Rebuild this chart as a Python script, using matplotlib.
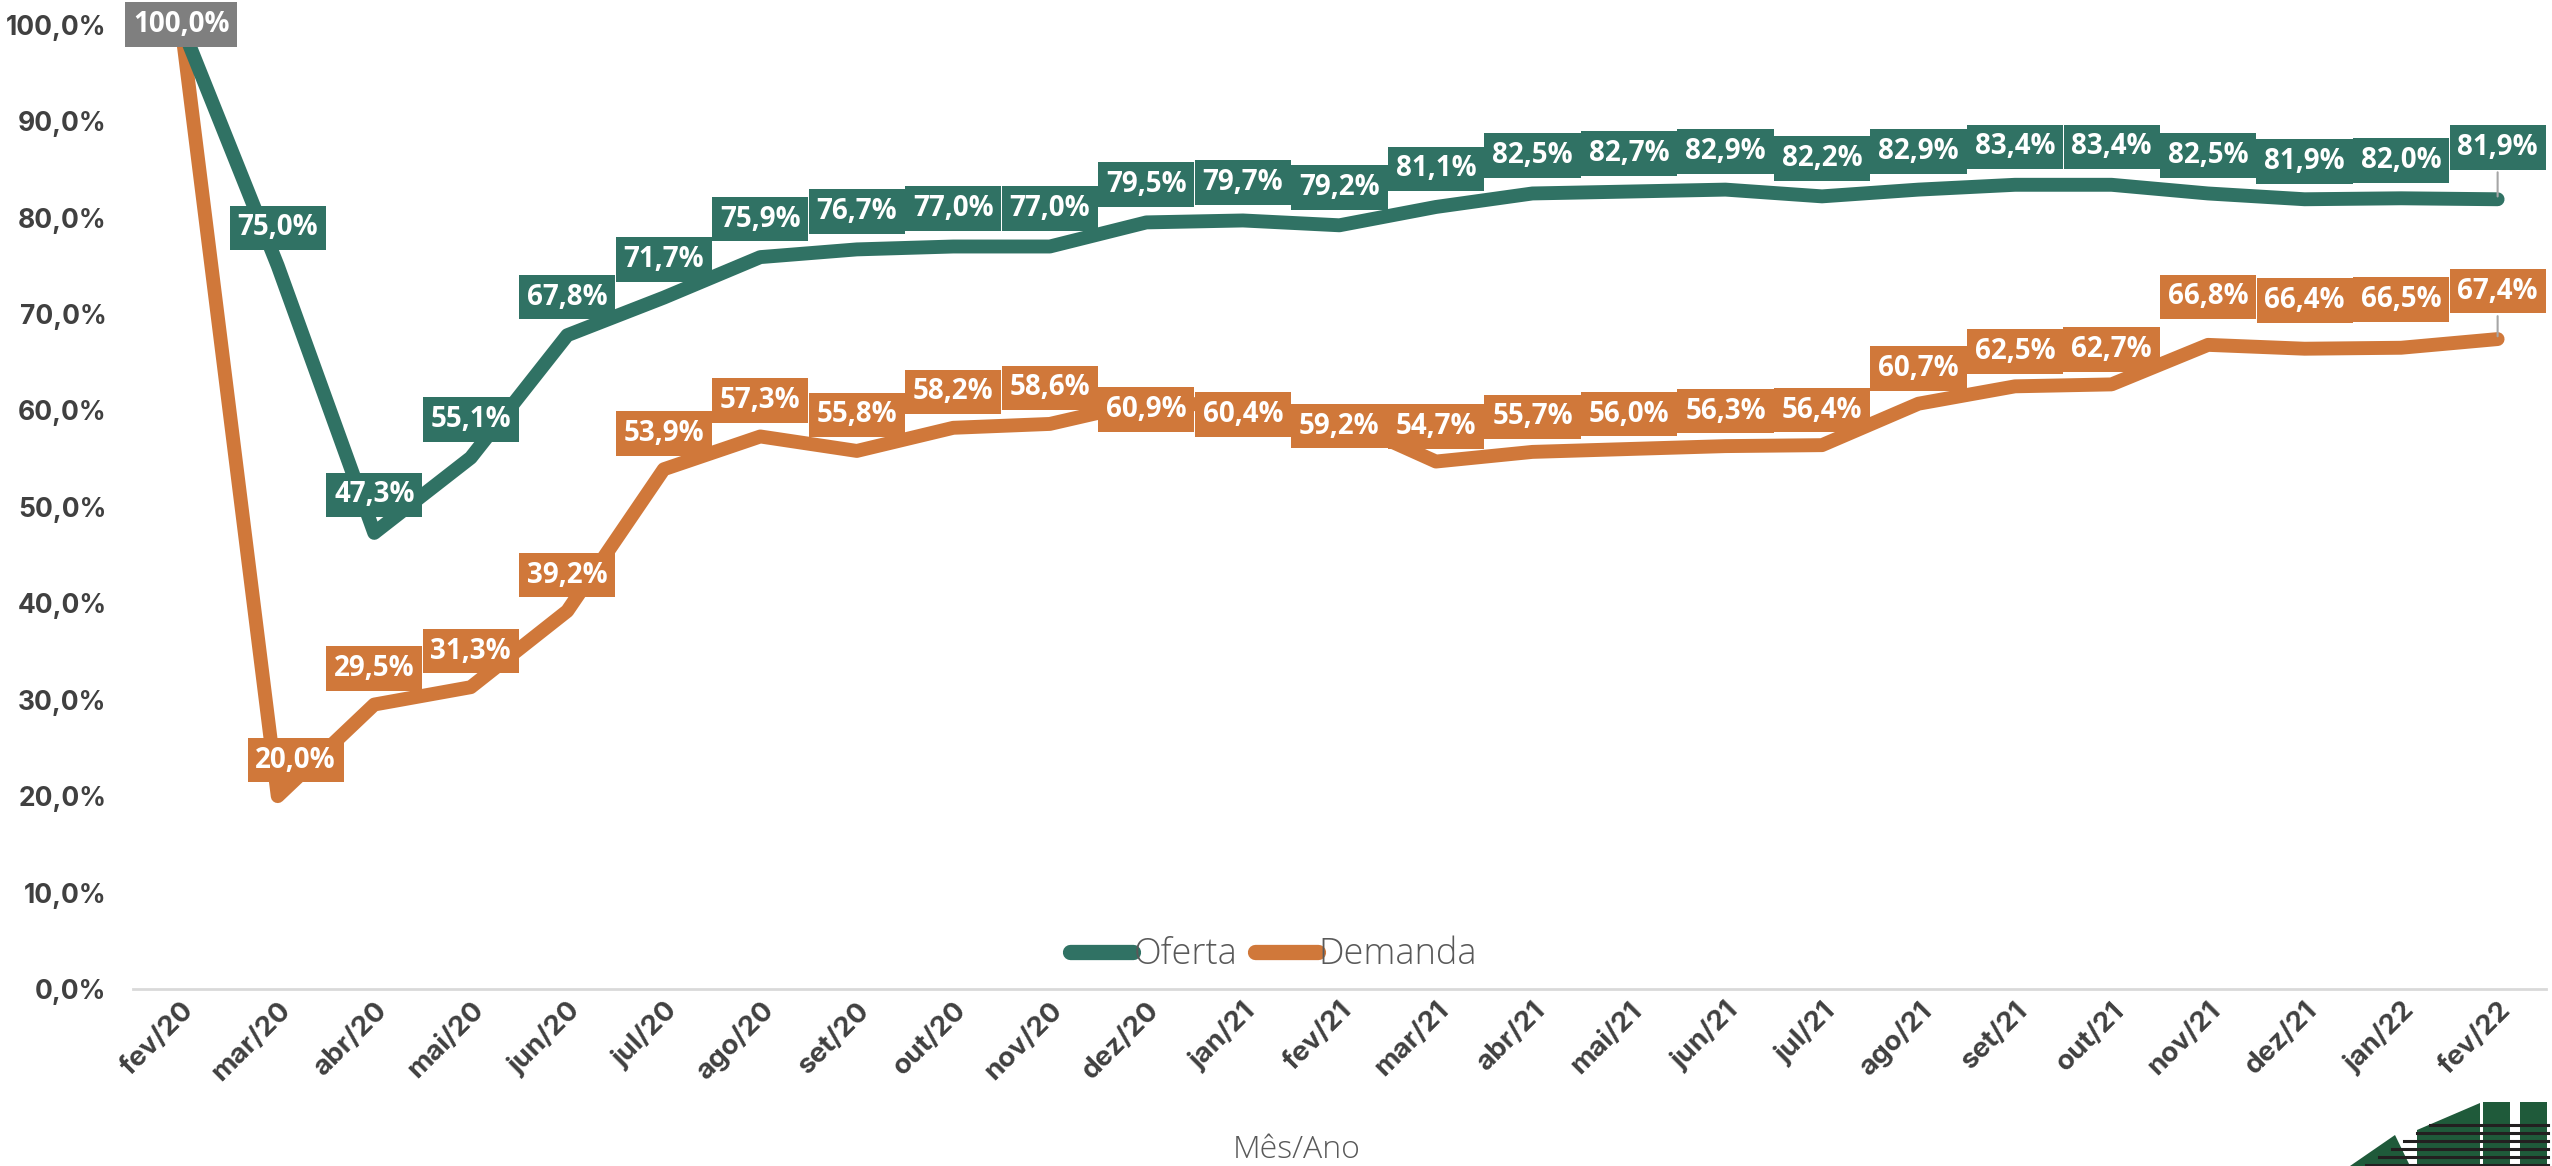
import matplotlib.pyplot as plt
import matplotlib.transforms as mtrans
from matplotlib.lines import Line2D
from matplotlib.patches import Rectangle, Polygon

# dados (mês/ano, % oferta e demanda)
meses = ["fev/20", "mar/20", "abr/20", "mai/20", "jun/20", "jul/20", "ago/20", "set/20",
         "out/20", "nov/20", "dez/20", "jan/21", "fev/21", "mar/21", "abr/21", "mai/21",
         "jun/21", "jul/21", "ago/21", "set/21", "out/21", "nov/21", "dez/21", "jan/22", "fev/22"]
oferta = [100.0, 75.0, 47.3, 55.1, 67.8, 71.7, 75.9, 76.7, 77.0, 77.0, 79.5, 79.7, 79.2,
          81.1, 82.5, 82.7, 82.9, 82.2, 82.9, 83.4, 83.4, 82.5, 81.9, 82.0, 81.9]
demanda = [100.0, 20.0, 29.5, 31.3, 39.2, 53.9, 57.3, 55.8, 58.2, 58.6, 60.9, 60.4, 59.2,
           54.7, 55.7, 56.0, 56.3, 56.4, 60.7, 62.5, 62.7, 66.8, 66.4, 66.5, 67.4]
yticks = [0, 10, 20, 30, 40, 50, 60, 70, 80, 90, 100]

verde = "#307264"
laranja = "#D0783A"
cinza_txt = "#404040"

fig = plt.figure(figsize=(25.52, 11.66), dpi=100)
ax = fig.add_axes([0.0521, 0.1518, 0.9455, 0.827])

x = list(range(len(meses)))
ax.plot(x, oferta, color=verde, lw=10, solid_capstyle="round", solid_joinstyle="round", zorder=3)
ax.plot(x, demanda, color=laranja, lw=10, solid_capstyle="round", solid_joinstyle="round", zorder=2)

ax.set_xlim(-0.5, 24.5)
ax.set_ylim(0, 100)

# deslocamento dos rótulos (px)
px = 0.72
off_of = [0] + [38] * 23 + [52]
off_de = [0] + [36] * 9 + [-8, -8, -8] + [35] * 8 + [48] * 4
dx_de = [0, 18] + [0] * 23


def rotulo(xi, yi, dy, cor, dx=0, leader=False):
    txt = f"{yi:.1f}%".replace(".", ",")
    ax.annotate(txt, (xi, yi), xytext=(dx * px, dy * px), textcoords="offset points",
                ha="center", va="center", color="white", fontsize=20,
                family="Open Sans", weight="bold", zorder=6,
                bbox=dict(boxstyle="square,pad=0.28", fc=cor, ec="none"),
                arrowprops=dict(arrowstyle="-", color="#A6A6A6", lw=1.5) if leader else None)


for i in range(1, len(meses)):
    rotulo(i, oferta[i], off_of[i], verde, leader=(i == len(meses) - 1))
    rotulo(i, demanda[i], off_de[i], laranja, dx=dx_de[i], leader=(i == len(meses) - 1))
rotulo(0, 100.0, 0, "#7F7F7F")

ax.set_yticks(yticks)
ax.set_yticklabels([f"{v:.1f}%".replace(".", ",") for v in yticks])
ax.set_xticks(x)
ax.set_xticklabels(meses, rotation=45, ha="right", rotation_mode="anchor")
for lab in ax.get_yticklabels() + ax.get_xticklabels():
    lab.set_fontsize(19)
    lab.set_fontweight("bold")
    lab.set_family("Inter")
    lab.set_color(cinza_txt)
for lab in ax.get_xticklabels():
    lab.set_fontsize(20)
desloca = mtrans.ScaledTranslation(16 / 100, 0, fig.dpi_scale_trans)
for lab in ax.get_xticklabels():
    lab.set_transform(lab.get_transform() + desloca)
ax.tick_params(axis="both", length=0)
ax.tick_params(axis="y", pad=19)
ax.tick_params(axis="x", pad=6)

for s in ["top", "right", "left"]:
    ax.spines[s].set_visible(False)
ax.spines["bottom"].set_color("#D9D9D9")
ax.spines["bottom"].set_linewidth(2)

fig.text(0.508, 0.014, "Mês/Ano", ha="center", va="center", fontsize=23,
         family="Open Sans", weight="light", color="#595959")

handles = [Line2D([], [], color=verde, lw=11, solid_capstyle="round"),
           Line2D([], [], color=laranja, lw=11, solid_capstyle="round")]
leg = fig.legend(handles, ["Oferta", "Demanda"], loc="center", bbox_to_anchor=(0.499, 0.181),
                 ncol=2, frameon=False, handlelength=1.75, handletextpad=0.0, columnspacing=0.5,
                 prop={"family": "Open Sans", "weight": "light", "size": 26})
for t in leg.get_texts():
    t.set_color("#595959")

# logo (canto inferior direito, cortado)
W, H = 2552, 1166
def fp(xp, yp):
    return (xp / W, 1 - yp / H)
logo = [Polygon([fp(2417, 1130), fp(2480, 1103), fp(2480, 1166), fp(2417, 1166)]),
        Rectangle(fp(2483, 1166), 27 / W, 64 / H),
        Rectangle(fp(2520, 1166), 27 / W, 64 / H),
        Polygon([fp(2350, 1166), fp(2395, 1135), fp(2410, 1166)])]
for p in logo:
    p.set_transform(fig.transFigure)
    p.set_facecolor("#1F5A3A")
    p.set_edgecolor("none")
    fig.add_artist(p)
for yy in range(1125, 1166, 8):
    fig.add_artist(Line2D([(2430 - (yy - 1125) * 1.6) / W, 2548 / W], [1 - yy / H, 1 - yy / H],
                          transform=fig.transFigure, color="#231F20", lw=2.2))

fig.savefig("out.png", dpi=100)
